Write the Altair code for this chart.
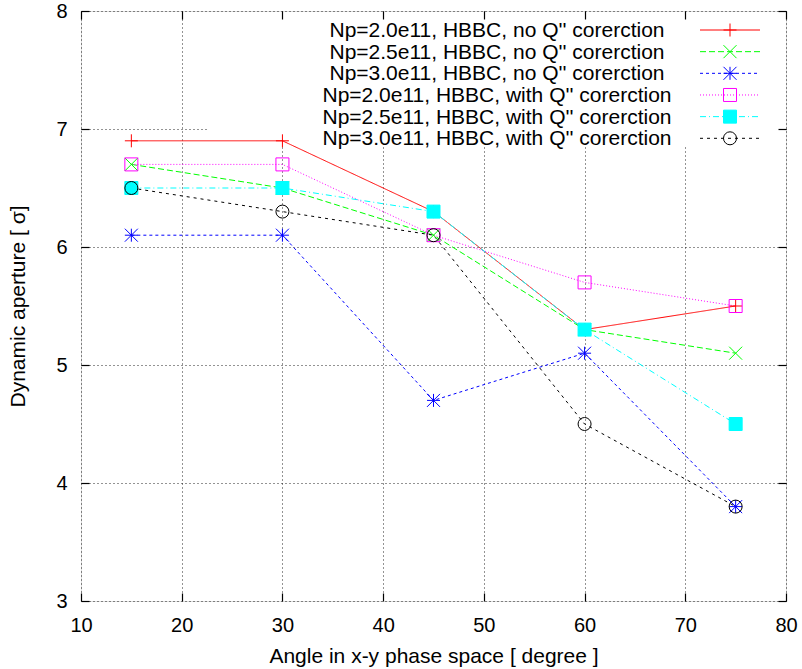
import altair as alt
import pandas as pd

# ---- data ----
angles = [15, 30, 45, 60, 75]
series_names = [
    "Np=2.0e11, HBBC, no Q'' corerction",
    "Np=2.5e11, HBBC, no Q'' corerction",
    "Np=3.0e11, HBBC, no Q'' corerction",
    "Np=2.0e11, HBBC, with Q'' corerction",
    "Np=2.5e11, HBBC, with Q'' corerction",
    "Np=3.0e11, HBBC, with Q'' corerction",
]
np20_no = [6.9, 6.9, 6.3, 5.3, 5.5]
np25_no = [6.7, 6.5, 6.1, 5.3, 5.1]
np30_no = [6.1, 6.1, 4.7, 5.1, 3.8]
np20_with = [6.7, 6.7, 6.1, 5.7, 5.5]
np25_with = [6.5, 6.5, 6.3, 5.3, 4.5]
np30_with = [6.5, 6.3, 6.1, 4.5, 3.8]
x_ticks = [10, 20, 30, 40, 50, 60, 70, 80]
y_ticks = [3, 4, 5, 6, 7, 8]

# ---- styles ----
colors = ["#ff0000", "#00ff00", "#0000ff", "#ff00ff", "#00ffff", "#000000"]
dashes = [[1, 0], [6, 3], [3, 3], [1, 2], [6, 3, 1, 3], [3, 4]]
plus = "M-1,0H1M0,-1V1"
cross = "M-1,-1L1,1M-1,1L1,-1"
star = "M-1,0H1M0,-1V1M-1,-1L1,1M-1,1L1,-1"
shapes = [plus, cross, star, "square", "square", "circle"]
fills = ["transparent", "transparent", "transparent", "transparent", "#00ffff", "transparent"]

all_values = [np20_no, np25_no, np30_no, np20_with, np25_with, np30_with]
rows = []
for name, vals in zip(series_names, all_values):
    for a, v in zip(angles, vals):
        rows.append({"angle": a, "value": v, "series": name})
df = pd.DataFrame(rows)
leg_df = pd.DataFrame({"series": series_names})

FONT = "Liberation Sans"
W, H = 705, 590

xscale = alt.Scale(domain=[10, 80], nice=False, zero=False)
yscale = alt.Scale(domain=[3, 8], nice=False, zero=False)
color = alt.Color("series:N", scale=alt.Scale(domain=series_names, range=colors), legend=None)
dash = alt.StrokeDash("series:N", scale=alt.Scale(domain=series_names, range=dashes), legend=None)
shape = alt.Shape("series:N", scale=alt.Scale(domain=series_names, range=shapes), legend=None)
fill = alt.Fill("series:N", scale=alt.Scale(domain=series_names, range=fills), legend=None)
leg_y = alt.Y("series:N", scale=alt.Scale(type="point", domain=series_names,
                                          range=[19, 127.3], padding=0), axis=None)

common_tick = dict(offset=-8, tickSize=8, domain=False, tickColor="black", tickWidth=1.2)

x_bottom = alt.Axis(orient="bottom", values=x_ticks, grid=True, gridDash=[1, 3],
                    gridColor="black", gridOpacity=0.85, labelFontSize=20, labelPadding=14,
                    labelColor="black", labelFont=FONT, title="Angle in x-y phase space [ degree ]",
                    titleFont=FONT, titleFontSize=21, titleFontWeight="normal", titleColor="black",
                    titlePadding=10, labelFlush=False, zindex=0, **common_tick)
y_left = alt.Axis(orient="left", values=y_ticks, grid=True, gridDash=[1, 3],
                  gridColor="black", gridOpacity=0.85, labelFontSize=20, labelPadding=14,
                  labelColor="black", labelFont=FONT, title="Dynamic aperture [ σ]",
                  titleFont=FONT, titleFontSize=21, titleFontWeight="normal", titleColor="black",
                  titlePadding=27, labelFlush=False, zindex=0, **common_tick)
x_top = alt.Axis(orient="top", values=x_ticks, grid=False, labels=False, title=None,
                 zindex=1, **common_tick)
y_right = alt.Axis(orient="right", values=y_ticks, grid=False, labels=False, title=None,
                   zindex=1, **common_tick)

base = alt.Chart(df)

lines = base.mark_line(strokeWidth=1).encode(
    x=alt.X("angle:Q", scale=xscale, axis=x_bottom),
    y=alt.Y("value:Q", scale=yscale, axis=y_left),
    color=color, strokeDash=dash, order=alt.Order("angle:Q"),
)

box = alt.Chart(leg_df).mark_rect(fill="white", stroke=None).encode(
    x=alt.value(127), x2=alt.value(704), y=alt.value(1), y2=alt.value(136)
)

points = base.mark_point(filled=False, strokeWidth=1, size=169, opacity=1).encode(
    x=alt.X("angle:Q", scale=xscale, axis=x_top),
    y=alt.Y("value:Q", scale=yscale, axis=y_right),
    shape=shape, color=color, fill=fill,
)

leg_lines = alt.Chart(leg_df).mark_rule(strokeWidth=1).encode(
    x=alt.value(619), x2=alt.value(679), y=leg_y, color=color, strokeDash=dash
)
leg_points = alt.Chart(leg_df).mark_point(filled=False, strokeWidth=1, size=169, opacity=1).encode(
    x=alt.value(649), y=leg_y, shape=shape, color=color, fill=fill
)
leg_text = alt.Chart(leg_df).mark_text(align="center", baseline="middle", fontSize=21,
                                       font=FONT, color="black", dy=1).encode(
    x=alt.value(416), y=leg_y, text="series:N"
)

chart = alt.layer(box, lines, points, leg_lines, leg_points, leg_text).resolve_scale(
    y="independent"
).resolve_axis(x="independent", y="independent").properties(
    width=W, height=H,
    padding={"left": 81, "top": 11, "right": 16, "bottom": 68},
    autosize=alt.AutoSizeParams(type="none"),
    background="white",
).configure_view(stroke="black", strokeWidth=1.5).configure(font=FONT)

chart.save("out.html", embed_options={"renderer": "svg", "actions": False})
